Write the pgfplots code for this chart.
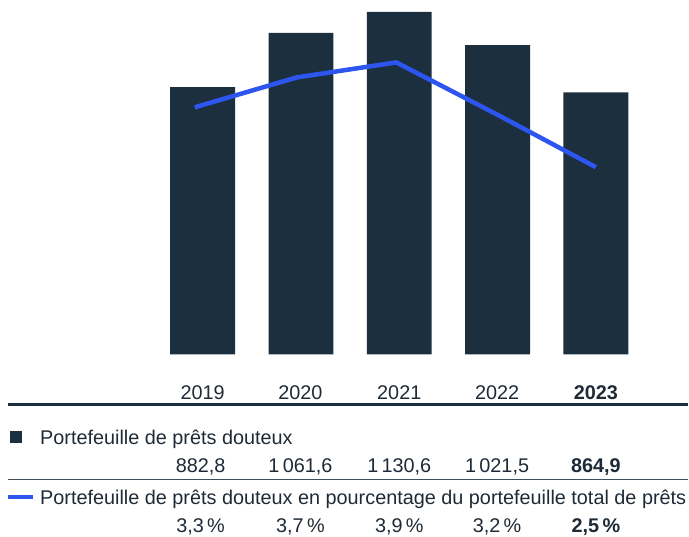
\documentclass[border=0pt]{standalone}
\usepackage{fontspec}
\setmainfont{Liberation Sans}
\usepackage{pgfplots}
\pgfplotsset{compat=1.18}
\definecolor{navy}{HTML}{1B2F3F}
\definecolor{lineblue}{HTML}{2D55F0}
\definecolor{txt}{HTML}{1E2A36}

\begin{document}
\begin{tikzpicture}
% bars: portefeuille de prets douteux
\begin{axis}[
    at={(0,0)}, anchor=north west,
    scale only axis, width=516.75pt, height=266.25pt,
    xmin=-2.061, xmax=4.934, ymin=0, ymax=1170.2,
    hide axis, clip=false,
    ybar, bar width=48.75pt
]
\addplot[fill=navy, draw=none] coordinates {(0,882.8) (1,1061.6) (2,1130.6) (3,1021.5) (4,864.9)};
\end{axis}
% line: en pourcentage du portefeuille total
\begin{axis}[
    at={(0,0)}, anchor=north west,
    scale only axis, width=516.75pt, height=266.25pt,
    xmin=-2.061, xmax=4.934, ymin=0, ymax=4.7333,
    hide axis, clip=false
]
\addplot[lineblue, line width=3.4pt, mark=none] coordinates {(-0.08,3.3) (0.96,3.7) (1.97,3.9) (3,3.2) (4,2.5)};
\end{axis}
% table below the chart (pixel grid of the reference)
\begin{scope}[x=0.75pt, y=-0.75pt, font=\fontsize{14.9}{17}\selectfont, text=txt]
\path (0,0) (689,537);
\draw[navy, line width=1.9pt] (8,405) -- (689,405);
\draw[navy!85, line width=0.8pt] (8,480) -- (689,480);
\foreach \x/\t in {203/2019, 301/2020, 400/2021, 498/2022}
  \node[anchor=base, inner sep=0pt] at (\x,400) {\t};
\node[anchor=base, inner sep=0pt] at (597,400) {\bfseries 2023};
\fill[navy] (10,432) rectangle (22,444);
\node[anchor=base west, inner sep=0pt] at (40,445) {Portefeuille de prêts douteux};
\foreach \x/\t in {201/{882,8}, 301/{1\,061,6}, 400/{1\,130,6}, 498/{1\,021,5}}
  \node[anchor=base, inner sep=0pt] at (\x,473) {\t};
\node[anchor=base, inner sep=0pt] at (597,473) {\bfseries 864,9};
\draw[lineblue, line width=3.6pt] (8,498) -- (33,498);
\node[anchor=base west, inner sep=0pt] at (40,505) {Portefeuille de prêts douteux en pourcentage du portefeuille total de prêts};
\foreach \x/\t in {201/{3,3\,\%}, 301/{3,7\,\%}, 400/{3,9\,\%}, 498/{3,2\,\%}}
  \node[anchor=base, inner sep=0pt] at (\x,533) {\t};
\node[anchor=base, inner sep=0pt] at (597,533) {\bfseries 2,5\,\%};
\end{scope}
\end{tikzpicture}
\end{document}
